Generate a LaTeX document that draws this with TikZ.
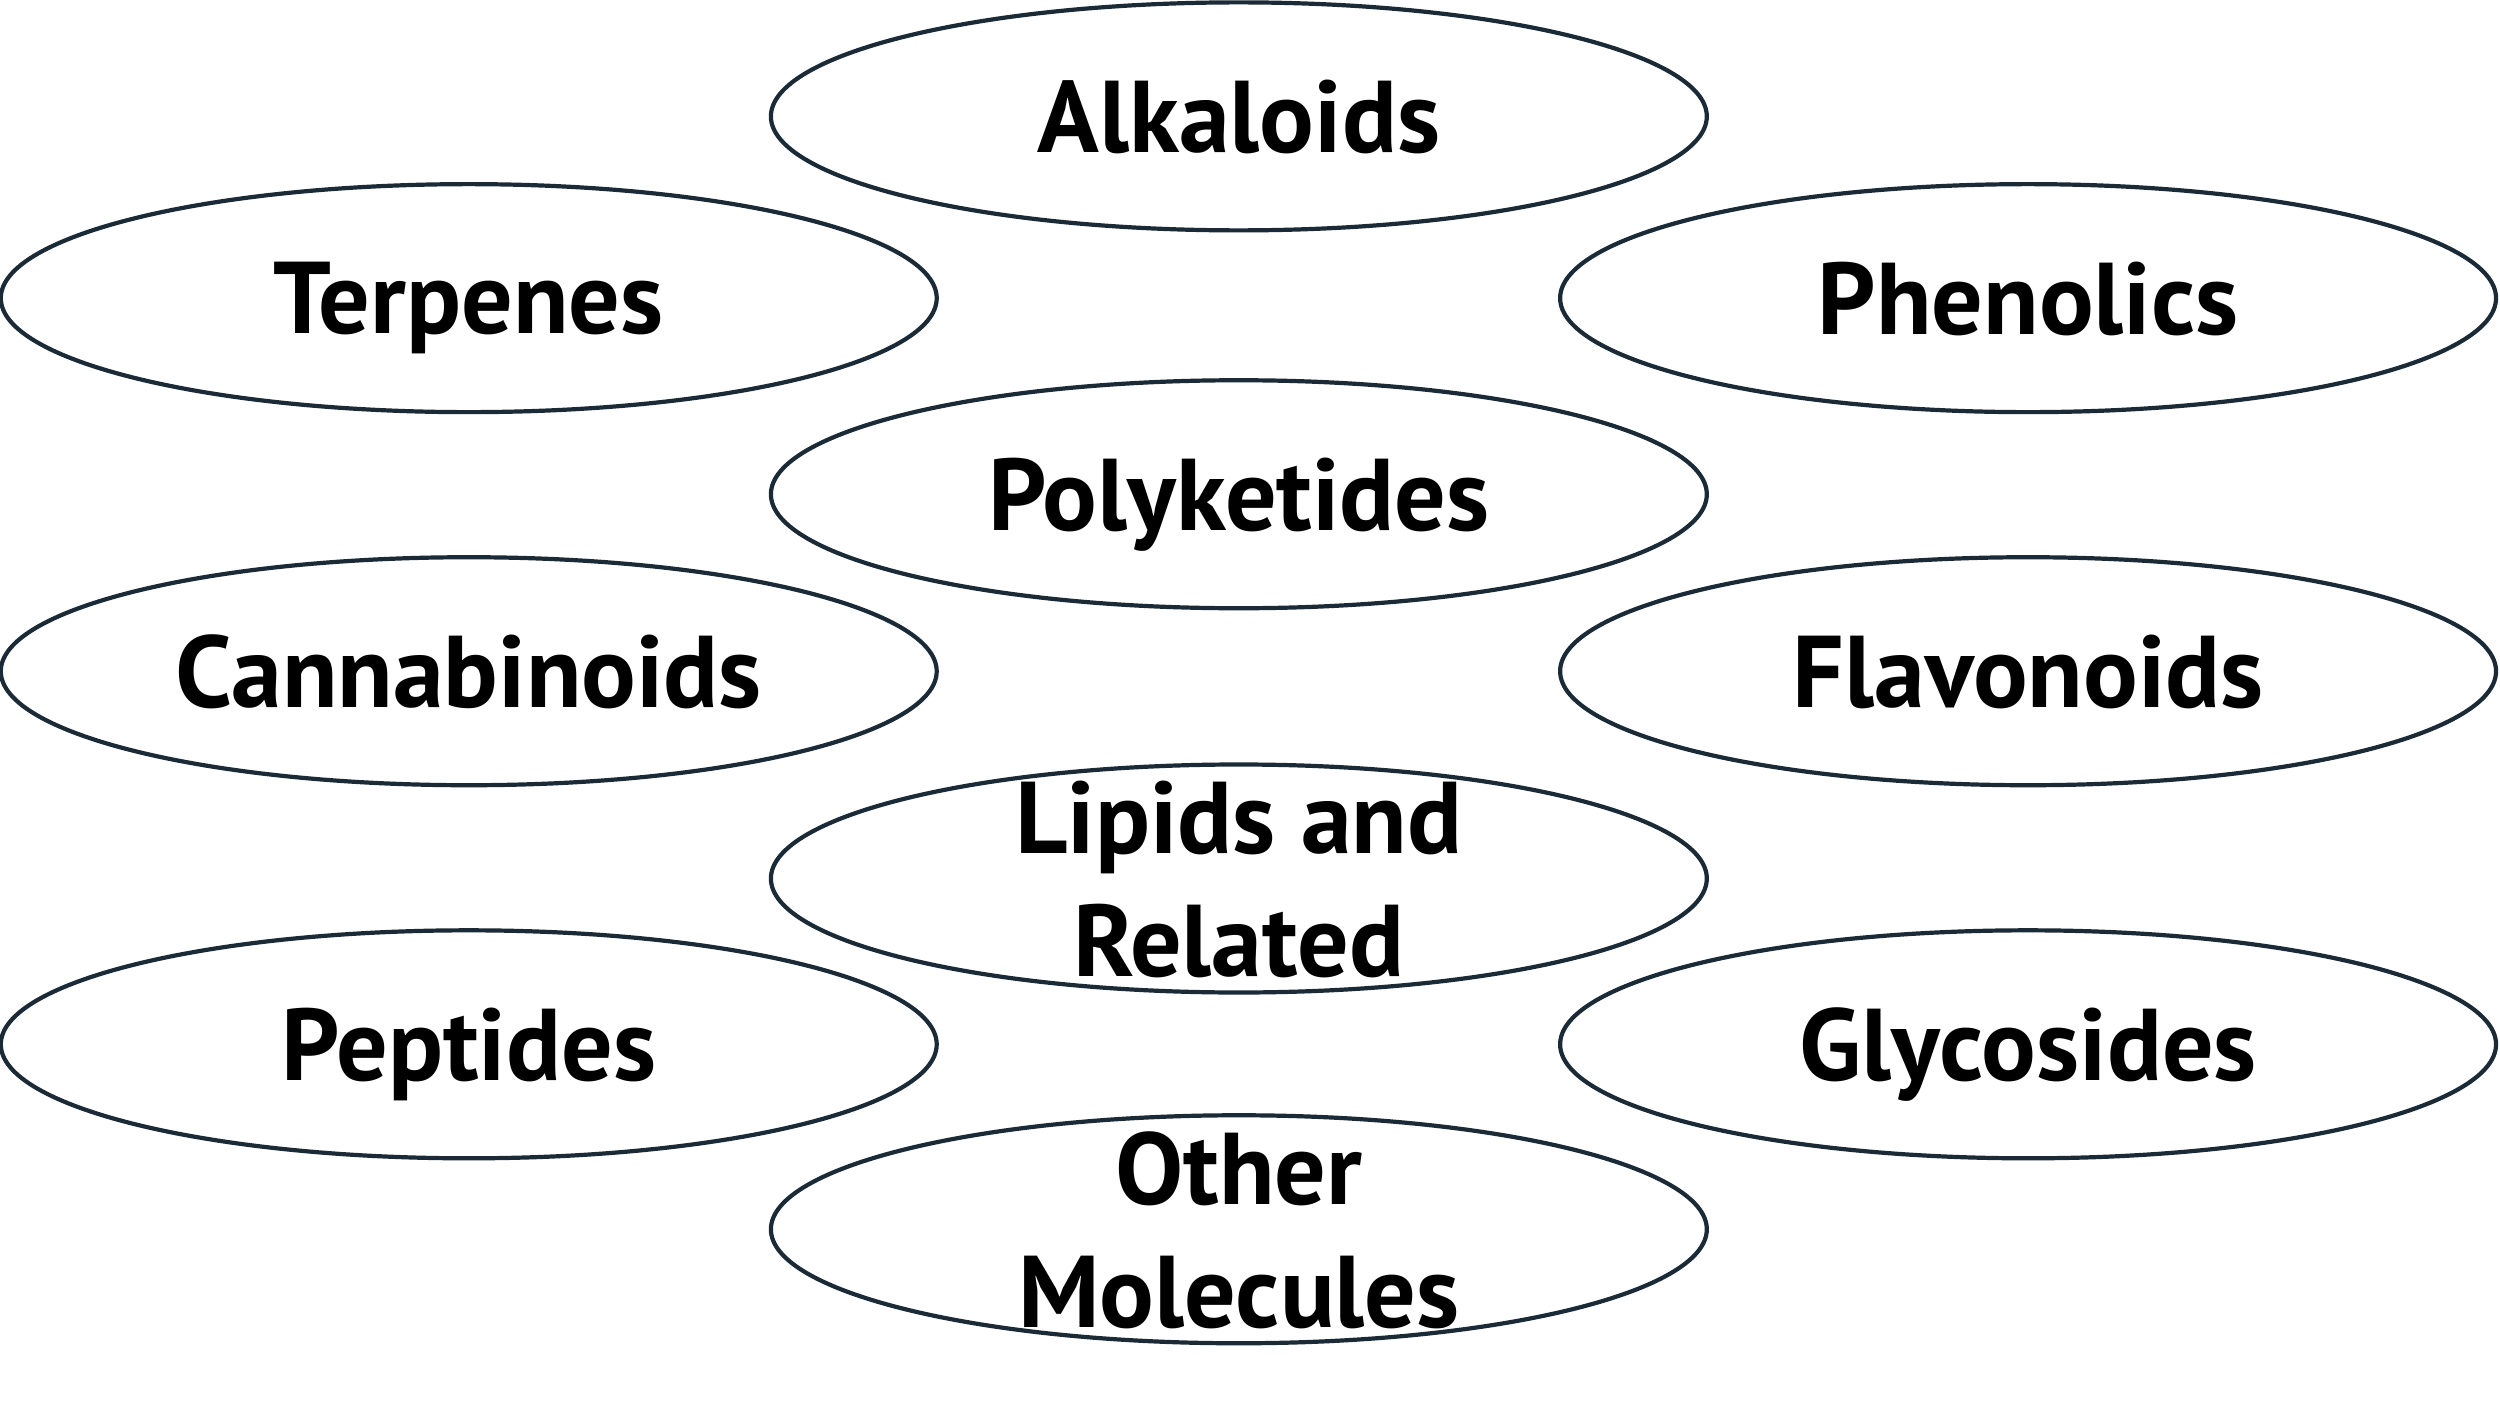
\documentclass[tikz,border=0pt]{standalone}
\usepackage{fontspec}
\newfontfamily\ovalfont{PT Sans}
\definecolor{Ink}{HTML}{1A2A36}
\usepackage{tikz}
\usetikzlibrary{shapes.geometric}

\begin{document}
\begin{tikzpicture}[
    oval/.style={
      ellipse, draw=Ink, line width=0.75pt,
      minimum width=5.87cm, minimum height=1.43cm, inner sep=0pt,
      label={[lbl]center:#1}
    },
    lbl/.style={
      align=center, font=\ovalfont\bfseries\fontsize{18.2}{21.9}\selectfont,
      inner sep=0pt, text depth=0pt, text=black
    }
  ]
    \fill[white] (0,0) rectangle (15.68,-8.90);
    \useasboundingbox (0,0) rectangle (15.68,-8.90);
    \node[oval={Alkaloids}] (alk) at (7.77,-0.73) {};
    \node[oval={Terpenes}] (ter) at (2.94,-1.87) {};
    \node[oval={Phenolics}] (phe) at (12.72,-1.87) {};
    \node[oval={Polyketides}] (pol) at (7.77,-3.10) {};
    \node[oval={Cannabinoids}] (can) at (2.94,-4.21) {};
    \node[oval={Flavonoids}] (fla) at (12.72,-4.21) {};
    \node[oval={Lipids and\\Related}] (lip) at (7.77,-5.51) {};
    \node[oval={Peptides}] (pep) at (2.94,-6.55) {};
    \node[oval={Glycosides}] (gly) at (12.72,-6.55) {};
    \node[oval={Other\\Molecules}] (oth) at (7.77,-7.71) {};
  \end{tikzpicture}
\end{document}
